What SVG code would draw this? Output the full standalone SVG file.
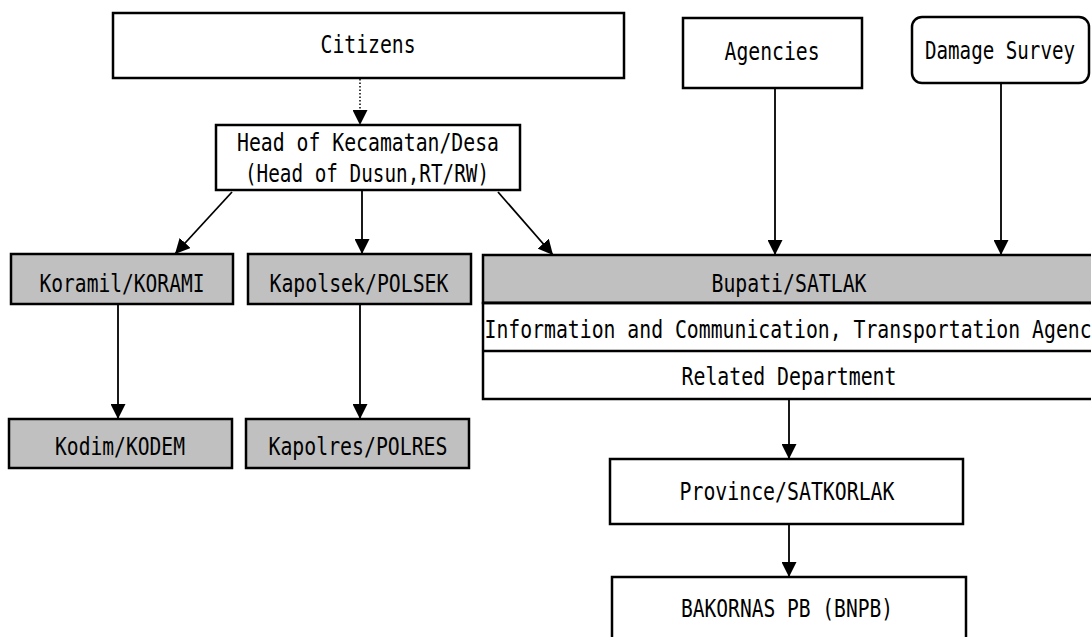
<svg xmlns="http://www.w3.org/2000/svg" width="1091" height="637" viewBox="0 0 1091 637">
  <style>
    .box { fill: #ffffff; stroke: #000000; stroke-width: 2.5; }
    .gray { fill: #c0c0c0; stroke: #000000; stroke-width: 2.5; }
    .lbl { font-family: "DejaVu Sans Mono", "Liberation Mono", monospace; font-size: 24px; fill: #000000; text-anchor: middle; }
    .edge { fill: none; stroke: #000000; stroke-width: 1.8; }
    .dotted { stroke-dasharray: 1.5 2; stroke-width: 1.5; }
    .sep { stroke: #000000; stroke-width: 2.5; }
  </style>
  <defs>
    <marker id="arrow" markerUnits="userSpaceOnUse" markerWidth="16" markerHeight="15" refX="15" refY="7.5" orient="auto">
      <path d="M0,0 L15,7.5 L0,15 z" fill="#000000"/>
    </marker>
  </defs>

  <rect width="1091" height="637" fill="#ffffff"/>

  <!-- connectors -->
  <g id="connectors">
    <line class="edge dotted" x1="360" y1="79" x2="360" y2="125" marker-end="url(#arrow)"/>
    <line class="edge" x1="232" y1="192" x2="175" y2="254" marker-end="url(#arrow)"/>
    <line class="edge" x1="362" y1="191" x2="362" y2="254" marker-end="url(#arrow)"/>
    <line class="edge" x1="498" y1="192" x2="553" y2="255" marker-end="url(#arrow)"/>
    <line class="edge" x1="775" y1="89" x2="775" y2="255" marker-end="url(#arrow)"/>
    <line class="edge" x1="1001" y1="84" x2="1001" y2="255" marker-end="url(#arrow)"/>
    <line class="edge" x1="118" y1="305" x2="118" y2="419" marker-end="url(#arrow)"/>
    <line class="edge" x1="360" y1="305" x2="360" y2="419" marker-end="url(#arrow)"/>
    <line class="edge" x1="789" y1="400" x2="789" y2="459" marker-end="url(#arrow)"/>
    <line class="edge" x1="789" y1="525" x2="789" y2="577" marker-end="url(#arrow)"/>
  </g>

  <g id="citizens">
    <rect class="box" x="113" y="13" width="511" height="65"/>
    <text class="lbl" x="368" y="53" textLength="95" lengthAdjust="spacingAndGlyphs">Citizens</text>
  </g>

  <g id="head-kecamatan">
    <rect class="box" x="216" y="125" width="304" height="65"/>
    <text class="lbl" x="368" y="151" textLength="262" lengthAdjust="spacingAndGlyphs">Head of Kecamatan/Desa</text>
    <text class="lbl" x="367" y="182" textLength="244" lengthAdjust="spacingAndGlyphs">(Head of Dusun,RT/RW)</text>
  </g>

  <g id="agencies">
    <rect class="box" x="683" y="18" width="179" height="70"/>
    <text class="lbl" x="772" y="60" textLength="95" lengthAdjust="spacingAndGlyphs">Agencies</text>
  </g>

  <g id="damage-survey">
    <rect class="box" x="912" y="17" width="177" height="66" rx="10" ry="10"/>
    <text class="lbl" x="1000" y="59" textLength="150" lengthAdjust="spacingAndGlyphs">Damage Survey</text>
  </g>

  <g id="koramil">
    <rect class="gray" x="11" y="254" width="222" height="50"/>
    <text class="lbl" x="122" y="292" textLength="165" lengthAdjust="spacingAndGlyphs">Koramil/KORAMI</text>
  </g>

  <g id="kapolsek">
    <rect class="gray" x="248" y="254" width="223" height="50"/>
    <text class="lbl" x="359" y="292" textLength="179" lengthAdjust="spacingAndGlyphs">Kapolsek/POLSEK</text>
  </g>

  <g id="bupati">
    <rect class="gray" x="483" y="255" width="620" height="48"/>
    <rect class="box" x="483" y="303" width="620" height="96"/>
    <line class="sep" x1="483" y1="303" x2="1100" y2="303"/>
    <line class="sep" x1="483" y1="351" x2="1100" y2="351"/>
    <text class="lbl" x="789" y="292" textLength="155" lengthAdjust="spacingAndGlyphs">Bupati/SATLAK</text>
    <text class="lbl" x="794" y="338" textLength="619" lengthAdjust="spacingAndGlyphs">Information and Communication, Transportation Agency</text>
    <text class="lbl" x="789" y="385" textLength="215" lengthAdjust="spacingAndGlyphs">Related Department</text>
  </g>

  <g id="kodim">
    <rect class="gray" x="9" y="419" width="223" height="49"/>
    <text class="lbl" x="120" y="455" textLength="130" lengthAdjust="spacingAndGlyphs">Kodim/KODEM</text>
  </g>

  <g id="kapolres">
    <rect class="gray" x="246" y="419" width="223" height="49"/>
    <text class="lbl" x="358" y="455" textLength="179" lengthAdjust="spacingAndGlyphs">Kapolres/POLRES</text>
  </g>

  <g id="province">
    <rect class="box" x="610" y="459" width="353" height="65"/>
    <text class="lbl" x="787" y="500" textLength="215" lengthAdjust="spacingAndGlyphs">Province/SATKORLAK</text>
  </g>

  <g id="bakornas">
    <rect class="box" x="612" y="577" width="354" height="75"/>
    <text class="lbl" x="787" y="617" textLength="212" lengthAdjust="spacingAndGlyphs">BAKORNAS PB (BNPB)</text>
  </g>
</svg>
